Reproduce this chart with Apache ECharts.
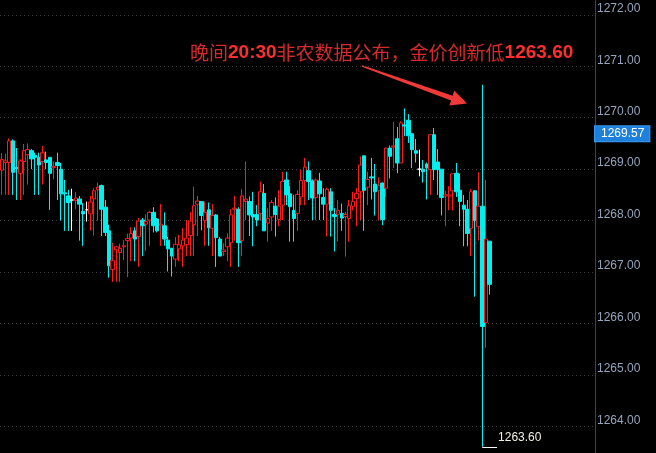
<!DOCTYPE html>
<html>
<head>
<meta charset="utf-8">
<script src="https://cdn.jsdelivr.net/npm/echarts@6/dist/echarts.min.js"></script>
<style>
html,body{margin:0;padding:0;background:#000;}
#c{width:656px;height:453px;}
</style>
</head>
<body>
<div id="c"></div>
<script>
// [open, close, low, high]
const candles = [
[1268.98,1269.19,1268.50,1269.31],[1269.13,1269.16,1268.50,1269.30],[1269.13,1269.55,1268.50,1269.60],[1269.55,1268.94,1268.50,1269.58],
[1269.03,1269.01,1268.40,1269.41],[1268.92,1269.16,1268.40,1269.19],[1269.15,1269.36,1268.50,1269.49],[1269.28,1269.38,1268.70,1269.50],
[1269.36,1269.20,1269.00,1269.39],[1269.27,1269.23,1268.50,1269.32],[1269.23,1269.08,1268.50,1269.32],[1269.15,1269.32,1268.70,1269.45],
[1269.18,1269.13,1269.00,1269.34],[1269.23,1268.92,1268.21,1269.23],[1269.03,1269.05,1268.80,1269.15],[1269.13,1269.07,1268.40,1269.32],
[1269.00,1268.52,1268.00,1269.12],[1268.54,1268.52,1267.80,1268.79],[1268.48,1268.35,1267.80,1268.60],[1268.40,1268.40,1267.80,1268.62],
[1268.39,1268.44,1268.22,1268.56],[1268.42,1268.32,1267.61,1268.48],[1268.18,1268.13,1267.51,1268.34],[1268.21,1268.21,1267.98,1268.37],
[1268.13,1268.36,1267.81,1268.48],[1268.42,1268.58,1267.71,1268.63],[1268.60,1268.65,1268.00,1268.74],[1268.68,1268.22,1267.70,1268.70],
[1268.26,1267.77,1267.70,1268.40],[1267.80,1267.12,1266.89,1267.92],[1267.05,1267.22,1266.81,1267.57],[1267.43,1267.49,1266.81,1267.51],
[1267.38,1267.46,1266.81,1267.55],[1267.49,1267.51,1267.23,1267.62],[1267.61,1267.65,1266.90,1267.75],[1267.66,1267.75,1267.21,1267.87],
[1267.80,1267.64,1267.21,1267.87],[1267.69,1267.99,1267.10,1268.05],[1268.01,1267.90,1267.31,1268.05],[1267.93,1267.98,1267.41,1268.12],
[1268.01,1268.16,1267.51,1268.19],[1268.16,1267.90,1267.77,1268.26],[1268.03,1267.80,1267.77,1268.05],[1267.91,1267.93,1267.51,1268.32],
[1267.90,1267.64,1267.51,1268.16],[1267.62,1267.45,1267.01,1267.68],[1267.46,1267.31,1266.91,1267.47],[1267.25,1267.54,1267.10,1267.68],
[1267.45,1267.53,1267.21,1267.72],[1267.51,1267.62,1267.10,1267.85],[1267.53,1267.66,1267.31,1268.01],[1267.71,1267.99,1267.31,1268.16],
[1267.92,1268.29,1267.31,1268.66],[1268.32,1268.38,1267.70,1268.48],[1268.37,1268.10,1267.81,1268.38],[1268.00,1268.16,1267.51,1268.37],
[1268.21,1267.86,1267.51,1268.35],[1267.85,1268.10,1267.31,1268.32],[1268.11,1267.67,1267.10,1268.13],[1267.64,1267.31,1267.31,1267.68],
[1267.40,1267.43,1267.31,1267.56],[1267.49,1267.66,1267.21,1267.75],[1267.57,1268.11,1267.10,1268.22],[1268.22,1268.24,1267.61,1268.48],
[1268.22,1267.57,1267.10,1268.26],[1267.61,1268.48,1267.31,1268.61],[1268.37,1268.42,1268.01,1269.15],[1268.37,1268.11,1267.70,1268.47],
[1268.12,1268.07,1267.50,1268.56],[1268.12,1268.01,1267.89,1268.30],[1268.14,1268.56,1268.01,1268.76],[1268.53,1267.80,1267.80,1268.71],
[1267.95,1268.04,1267.59,1268.24],[1268.07,1268.35,1267.80,1268.40],[1268.28,1268.12,1267.69,1268.45],[1268.02,1268.28,1267.89,1268.59],
[1268.30,1268.76,1268.01,1268.95],[1268.79,1268.50,1268.30,1268.95],[1268.52,1268.27,1267.59,1268.67],[1268.20,1268.04,1267.59,1268.50],
[1268.14,1268.51,1267.80,1268.59],[1268.46,1268.78,1268.30,1268.99],[1268.78,1269.04,1268.30,1269.22],[1268.97,1268.76,1268.40,1269.15],
[1268.77,1268.44,1268.01,1268.80],[1268.45,1268.79,1268.01,1268.82],[1268.77,1268.52,1268.01,1268.93],[1268.45,1268.32,1268.01,1268.63],
[1268.32,1268.61,1267.69,1268.64],[1268.56,1268.20,1267.69,1268.63],[1268.12,1268.08,1267.40,1268.24],[1268.12,1268.20,1267.59,1268.40],
[1268.14,1268.05,1267.80,1268.33],[1268.08,1268.12,1267.30,1268.17],[1268.04,1268.29,1267.59,1268.40],[1268.28,1268.37,1268.20,1268.56],
[1268.43,1268.53,1267.89,1268.63],[1268.56,1269.08,1268.01,1269.25],[1269.26,1268.59,1267.80,1269.26],[1268.65,1268.80,1268.30,1268.95],
[1268.85,1268.83,1268.41,1269.22],[1268.71,1268.56,1268.10,1269.10],[1268.59,1268.68,1268.00,1268.84],[1268.73,1268.02,1267.91,1268.74],
[1268.63,1269.41,1268.46,1269.41],[1269.41,1269.25,1268.82,1269.46],[1269.43,1269.45,1269.02,1269.92],[1269.59,1269.12,1268.92,1269.82],
[1269.12,1269.90,1269.12,1269.93],[1269.86,1269.84,1269.64,1270.18],[1269.95,1269.65,1269.51,1270.07],[1269.69,1269.38,1269.02,1269.69],
[1269.36,1269.31,1269.13,1269.59],[1269.00,1269.00,1268.86,1269.38],[1269.00,1268.95,1268.74,1269.18],[1269.10,1269.03,1268.41,1269.13],
[1268.99,1269.67,1268.50,1269.67],[1269.67,1268.99,1268.79,1269.80],[1269.14,1268.99,1268.50,1269.39],[1269.00,1268.45,1268.10,1269.00],
[1268.48,1268.50,1267.89,1268.58],[1268.48,1268.50,1268.20,1268.67],[1268.58,1268.91,1268.20,1268.91],[1268.92,1268.56,1268.46,1269.12],
[1268.59,1268.37,1267.89,1268.91],[1268.30,1268.22,1267.50,1268.50],[1268.22,1267.75,1267.50,1268.40],[1267.85,1268.56,1267.31,1268.61],
[1268.58,1268.00,1266.52,1268.58],[1267.88,1268.28,1267.61,1268.94],[1268.28,1265.94,1263.60,1270.64],[1266.02,1267.64,1265.53,1268.79],
[1267.60,1266.76,1266.56,1267.60]
];
const slotCount = 161;
const categories = Array.from({length: slotCount}, (_, i) => String(i + 1));
const yMin = 1263.48, yMax = 1272.29;
const currentPrice = 1269.57;
const lowPrice = 1263.60;
const lowIndex = 130;
const annotationParts = ['晚间', '20:30', '非农数据公布，金价创新低', '1263.60'];

const chart = echarts.init(document.getElementById('c'), null, {renderer: 'canvas'});
chart.setOption({
  backgroundColor: '#000000',
  animation: false,
  title: {
    left: 190, top: 40, padding: 0,
    text: '{a|' + annotationParts[0] + '}{b|' + annotationParts[1] + '}{a|' + annotationParts[2] + '}{b|' + annotationParts[3] + '}',
    textStyle: {
      fontSize: 19,
      rich: {
        a: {fontSize: 19, fontFamily: 'Noto Sans CJK SC', color: '#d42a2b', fontWeight: 'normal', lineHeight: 26},
        b: {fontSize: 19, fontFamily: 'Liberation Sans', color: '#ff2e2e', fontWeight: 'bold', lineHeight: 26}
      }
    }
  },
  grid: {left: 0, right: 61, top: 0, bottom: 0},
  xAxis: {
    type: 'category', data: categories, boundaryGap: true,
    axisLine: {show: false}, axisTick: {show: false}, axisLabel: {show: false}, splitLine: {show: false}
  },
  yAxis: {
    type: 'value', position: 'right', min: yMin, max: yMax, splitNumber: 9, scale: true,
    axisLine: {show: true, lineStyle: {color: '#3c4452', width: 1}},
    axisTick: {show: false},
    axisLabel: {
      show: true, inside: false, margin: 2, color: '#95a4bc', fontSize: 12,
      fontFamily: 'Liberation Sans, Arial, sans-serif', verticalAlign: 'bottom',
      showMinLabel: false, showMaxLabel: false,
      formatter: v => v.toFixed(2)
    },
    splitLine: {show: true, showMinLine: false, showMaxLine: false, lineStyle: {color: '#3a3d44', type: [1, 3], width: 1}}
  },
  series: [{
    type: 'candlestick',
    barWidth: 4,
    data: candles,
    itemStyle: {
      color: '#000000', color0: '#00f0f0',
      borderColor: '#ff1a1a', borderColor0: '#00f0f0',
      borderColorDoji: '#ffffff', borderWidth: 1
    },
    markLine: {
      silent: true, symbol: ['none', 'none'], animation: false,
      data: [
        [{coord: [lowIndex, lowPrice], lineStyle: {color: '#ffffff', width: 1, type: 'solid'},
          label: {show: true, position: 'end', distance: 1, offset: [0, -9], formatter: lowPrice.toFixed(2),
                  color: '#f3efe4', fontSize: 12, fontFamily: 'Liberation Sans, Arial, sans-serif'}},
         {coord: [lowIndex + 4, lowPrice]}],
        {yAxis: currentPrice, lineStyle: {color: 'rgba(0,0,0,0)', width: 0},
         label: {show: true, position: 'end', distance: 0, offset: [0, -6], formatter: currentPrice.toFixed(2),
                 color: '#ffffff', backgroundColor: '#1f80dc', borderColor: '#3a9af0', borderWidth: 1,
                 padding: [2, 5, 1, 6], fontSize: 12, fontFamily: 'Liberation Sans, Arial, sans-serif'}}
      ]
    }
  }],
  graphic: [
    {
      type: 'polygon', silent: true,
      shape: {points: [[362.2, 65.2], [452.7, 95.7], [454.2, 90.5], [467, 103.5], [449.5, 105.5], [451.1, 100.5], [361.8, 66.8]]},
      style: {fill: '#f03a3a'}
    }
  ]
});
</script>
</body>
</html>
